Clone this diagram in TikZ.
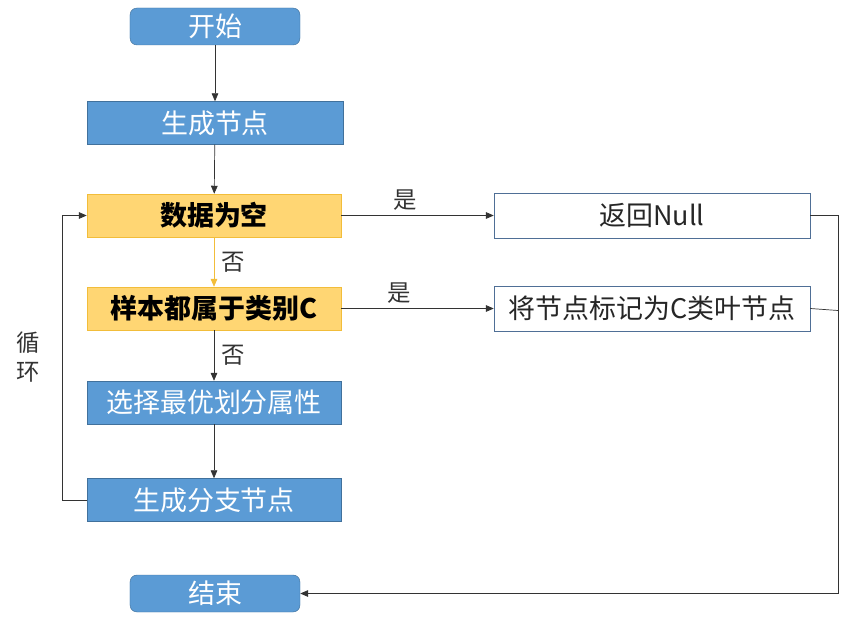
\documentclass[tikz,border=0pt]{standalone}
\usepackage{fontspec}
\setmainfont{Noto Sans CJK SC}
\usepackage{xcolor}
\usepackage{tikz}
\usetikzlibrary{arrows.meta, positioning, calc}
\definecolor{bluebox}{HTML}{5B9BD5}
\definecolor{blueline}{HTML}{41719C}
\definecolor{yellowbox}{HTML}{FFD673}
\definecolor{yellowline}{HTML}{F2BD3A}
\definecolor{outline}{HTML}{4F6F96}
\tikzset{
    arr/.style={-{Triangle[length=2.4mm,width=2mm]}, line width=0.6pt, black!80},
    bluestep/.style={rectangle, fill=bluebox, draw=blueline, text=white, minimum width=7.62cm, minimum height=1.29cm, inner sep=0pt, font=\fontsize{23}{26}\selectfont},
    termbox/.style={bluestep, rounded corners=6pt, minimum width=5.1cm, minimum height=1.11cm},
    testbox/.style={bluestep, fill=yellowbox, draw=yellowline, text=black, font=\fontsize{23}{26}\selectfont\bfseries},
    outbox/.style={bluestep, fill=white, draw=outline, text=black!85, minimum width=9.48cm, minimum height=1.35cm},
    lbl/.style={font=\fontsize{20}{23}\selectfont, text=black!80}
}

\begin{document}
\begin{tikzpicture}[x=0.03cm, y=-0.03cm]
    % Area del disegno
    \useasboundingbox (0,0) rectangle (850,622);

    % Colonna principale
    \node[termbox]  (inizio)  at (215,26.5)  {开始};
    \node[bluestep, minimum width=7.68cm] (genera) at (215,123) {生成节点};
    \node[testbox]  (vuoto)   at (214,215.5) {数据为空};
    \node[testbox]  (classe)  at (214,308.5) {样本都属于类别C};
    \node[bluestep] (sceglie) at (214,402.5) {选择最优划分属性};
    \node[bluestep] (rami)    at (214,500)   {生成分支节点};
    \node[termbox]  (fine)    at (215,593.5) {结束};

    % Uscite a destra
    \node[outbox] (nullo)  at (652,215.5) {返回Null};
    \node[outbox] (foglia) at (652,308.5) {将节点标记为C类叶节点};

    % Frecce verticali
    \draw[arr] (inizio) -- (genera);
    \draw[arr] (genera) -- (vuoto);
    \draw[arr, yellowline] (vuoto) -- node[lbl, right=3pt] {否} (classe);
    \draw[arr] (classe) -- node[lbl, right=3pt] {否} (sceglie);
    \draw[arr] (sceglie) -- (rami);

    % Rami "si"
    \draw[arr] (vuoto) -- node[lbl, above=1pt, pos=0.42] {是} (nullo);
    \draw[arr] (classe) -- node[lbl, above=1pt, pos=0.38] {是} (foglia);

    % Ciclo
    \coordinate (sx) at (62,0);
    \draw[arr] (rami.west) -| (sx |- rami.west) |- (vuoto.west);
    \node[lbl, align=center] (ciclo) at (28,357) {循\\[2pt]环};

    % Ritorno alla fine
    \coordinate (dx) at (838,0);
    \draw[arr] (nullo.east) -| (dx |- fine.east) -- (fine.east);
    \draw[line width=0.6pt, black!80] (foglia.east) -- ($(dx |- foglia.east)+(0,2)$);
\end{tikzpicture}
\end{document}
